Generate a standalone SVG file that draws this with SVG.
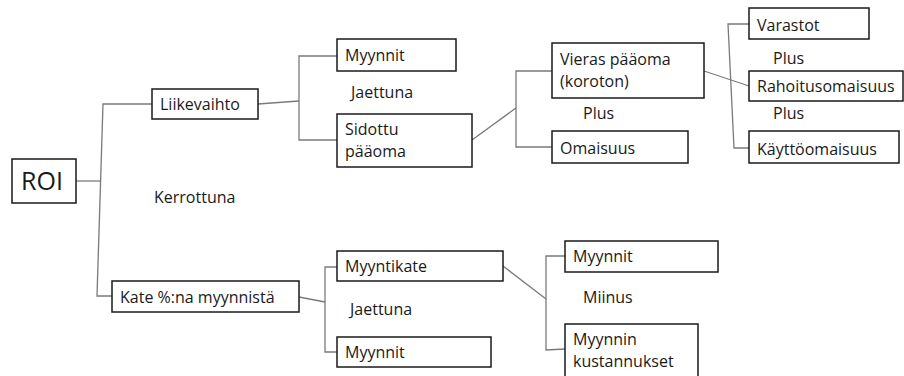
<svg xmlns="http://www.w3.org/2000/svg" width="904" height="376" viewBox="0 0 904 376">
  <style>
    .box { fill: #ffffff; stroke: #1a1a1a; stroke-width: 1.5; }
    .lbl { font-family: "Open Sans", "Noto Sans", "Liberation Sans", sans-serif; font-size: 16px; fill: #1a1a1a; }
    .big { font-size: 25px; }
    .wire { fill: none; stroke: #7a7a7a; stroke-width: 1.3; }
  </style>
  <rect width="904" height="376" fill="#ffffff"/>

  <!-- connectors (brackets and links) -->
  <g id="connectors">
    <!-- ROI -> Liikevaihto / Kate -->
    <polyline class="wire" points="76,181 100,181"/>
    <polyline class="wire" points="152,104 103,104 97,296 112,296"/>
    <!-- Liikevaihto -> Myynnit / Sidottu pääoma -->
    <polyline class="wire" points="258,104 299,101"/>
    <polyline class="wire" points="337,56 299,56 299,140 337,140"/>
    <!-- Sidottu pääoma -> Vieras pääoma / Omaisuus -->
    <polyline class="wire" points="472,140 516,108"/>
    <polyline class="wire" points="552,71 516,71 516,147 552,147"/>
    <!-- Vieras pääoma -> Varastot / Rahoitusomaisuus / Käyttöomaisuus -->
    <polyline class="wire" points="704,71 749,86"/>
    <polyline class="wire" points="749,24 728,24 734,148 749,148"/>
    <!-- Kate -> Myyntikate / Myynnit -->
    <polyline class="wire" points="299,297 325,302"/>
    <polyline class="wire" points="337,267 325,267 325,352 337,352"/>
    <!-- Myyntikate -> Myynnit / Myynnin kustannukset -->
    <polyline class="wire" points="503,266 546,299"/>
    <polyline class="wire" points="565,256 546,256 546,350 565,349"/>
  </g>

  <!-- operator labels -->
  <g id="operators" class="lbl">
    <text x="154" y="203">Kerrottuna</text>
    <text x="351" y="98">Jaettuna</text>
    <text x="583" y="119">Plus</text>
    <text x="773" y="64">Plus</text>
    <text x="773" y="119">Plus</text>
    <text x="350" y="315">Jaettuna</text>
    <text x="583" y="303">Miinus</text>
  </g>

  <g id="roi">
    <rect class="box" x="12" y="159" width="64" height="44"/>
    <text class="lbl big" x="21" y="190">ROI</text>
  </g>
  <g id="liikevaihto">
    <rect class="box" x="152" y="89" width="106" height="30"/>
    <text class="lbl" x="160" y="110">Liikevaihto</text>
  </g>
  <g id="myynnit-1">
    <rect class="box" x="337" y="39" width="119" height="32"/>
    <text class="lbl" x="345" y="61">Myynnit</text>
  </g>
  <g id="sidottu-paaoma">
    <rect class="box" x="337" y="114" width="135" height="53"/>
    <text class="lbl" x="345" y="135">Sidottu</text>
    <text class="lbl" x="345" y="157">pääoma</text>
  </g>
  <g id="vieras-paaoma">
    <rect class="box" x="552" y="43" width="152" height="55"/>
    <text class="lbl" x="560" y="65">Vieras pääoma</text>
    <text class="lbl" x="560" y="87">(koroton)</text>
  </g>
  <g id="omaisuus">
    <rect class="box" x="552" y="131" width="136" height="32"/>
    <text class="lbl" x="560" y="154">Omaisuus</text>
  </g>
  <g id="varastot">
    <rect class="box" x="749" y="8" width="120" height="31"/>
    <text class="lbl" x="757" y="31">Varastot</text>
  </g>
  <g id="rahoitusomaisuus">
    <rect class="box" x="749" y="71" width="154" height="30"/>
    <text class="lbl" x="757" y="92">Rahoitusomaisuus</text>
  </g>
  <g id="kayttoomaisuus">
    <rect class="box" x="749" y="131" width="150" height="32"/>
    <text class="lbl" x="757" y="155">Käyttöomaisuus</text>
  </g>
  <g id="kate">
    <rect class="box" x="112" y="281" width="187" height="31"/>
    <text class="lbl" x="120" y="303">Kate %:na myynnistä</text>
  </g>
  <g id="myyntikate">
    <rect class="box" x="337" y="251" width="166" height="30"/>
    <text class="lbl" x="345" y="272">Myyntikate</text>
  </g>
  <g id="myynnit-2">
    <rect class="box" x="337" y="337" width="154" height="30"/>
    <text class="lbl" x="345" y="358">Myynnit</text>
  </g>
  <g id="myynnit-3">
    <rect class="box" x="565" y="241" width="153" height="31"/>
    <text class="lbl" x="573" y="262">Myynnit</text>
  </g>
  <g id="myynnin-kustannukset">
    <rect class="box" x="565" y="324" width="133" height="60"/>
    <text class="lbl" x="573" y="345">Myynnin</text>
    <text class="lbl" x="573" y="367">kustannukset</text>
  </g>
</svg>
